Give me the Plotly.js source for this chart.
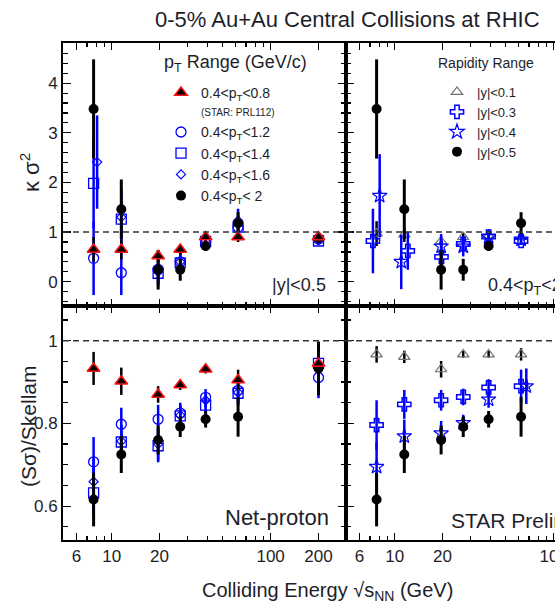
<!DOCTYPE html>
<html><head><meta charset="utf-8">
<script src="https://cdn.plot.ly/plotly-3.0.1.min.js"></script>
<style>html,body{margin:0;padding:0;overflow:hidden;background:#fff}</style>
</head><body><div id="chart" style="width:555px;height:610px"></div>
<script>
// ---------- data ----------
const energies = [7.7, 11.5, 19.6, 27, 39, 62.4, 200];
const xTickVals = [6, 10, 20, 100, 200];
const xTickText = ['6', '10', '20', '100', '200'];
const xMinorVals = [5, 7, 8, 9, 30, 40, 50, 60, 70, 80, 90, 300];

// top-left: kappa*sigma^2, pT ranges (|y|<0.5)
const kPt08 = [0.65, 0.65, 0.52, 0.65, 0.90, 0.90, 0.90];
const kPt08Err = [0.25, 0.20, 0.12, 0.10, 0.07, 0.10, 0.05];
const kPt12 = [0.47, 0.18, 0.25, 0.40, 0.80, 1.10, 0.86];
const kPt12Err = [0.74, 0.45, 0.30, 0.20, 0.10, 0.15, 0.08];
const kPt14 = [1.98, 1.26, 0.17, 0.38, 0.81, 1.10, 0.82];
const kPt14Err = [0.90, 0.50, 0.25, 0.20, 0.10, 0.15, 0.08];
const kPt16X = [8.1, 11.5, 19.6, 27, 39, 62.4, 200];
const kPt16 = [2.41, 1.30, 0.20, 0.40, 0.82, 1.23, 0.85];
const kPt16Err = [0.94, 0.55, 0.30, 0.20, 0.10, 0.24, 0.08];
const kNetP = [3.48, 1.46, 0.24, 0.24, 0.72, 1.18, 0.88];   // 0.4<pT<2, |y|<0.5
const kNetPErr = [1.00, 0.60, 0.40, 0.22, 0.10, 0.22, 0.10];

// top-right: kappa*sigma^2, rapidity ranges (0.4<pT<2)
const energiesRap = [7.7, 11.5, 19.6, 27, 39, 62.4];
const kY01 = [0.97, 0.95, 0.81, 0.90, 0.93, 0.90];
const kY01Err = [0.25, 0.15, 0.10, 0.08, 0.05, 0.05];
const kY03X = [7.3, 12.1, 19.7, 27, 39, 62.4];
const kY03 = [0.82, 0.62, 0.50, 0.76, 0.91, 0.82];
const kY03Err = [0.65, 0.38, 0.33, 0.15, 0.06, 0.08];
const kY04X = [8.05, 11.0, 19.6, 27, 39, 62.4];
const kY04 = [1.73, 0.40, 0.71, 0.71, 0.90, 0.85];
const kY04Err = [0.84, 0.55, 0.25, 0.20, 0.07, 0.08];

// bottom-left: S*sigma/Skellam, pT ranges
const sPt08 = [0.933, 0.902, 0.870, 0.893, 0.931, 0.905, 0.945];
const sPt08Err = [0.040, 0.033, 0.020, 0.012, 0.010, 0.025, 0.020];
const sPt12 = [0.707, 0.798, 0.810, 0.825, 0.863, 0.880, 0.911];
const sPt12Err = [0.060, 0.040, 0.035, 0.025, 0.020, 0.030, 0.050];
const sPt14 = [0.632, 0.755, 0.746, 0.818, 0.844, 0.873, 0.945];
const sPt14Err = [0.060, 0.040, 0.040, 0.025, 0.020, 0.030, 0.050];
const sPt16 = [0.659, 0.757, 0.750, 0.820, 0.856, 0.875, 0.940];
const sPt16Err = [0.060, 0.040, 0.040, 0.025, 0.020, 0.030, 0.050];
const sNetP = [0.616, 0.725, 0.760, 0.792, 0.810, 0.816, 0.933];
const sNetPErr = [0.065, 0.045, 0.035, 0.025, 0.020, 0.048, 0.065];

// bottom-right: S*sigma/Skellam, rapidity ranges
const sY01 = [0.967, 0.961, 0.931, 0.967, 0.967, 0.967];
const sY01Err = [0.020, 0.015, 0.020, 0.008, 0.008, 0.015];
const sY03 = [0.796, 0.846, 0.856, 0.864, 0.887, 0.890];
const sY03Err = [0.060, 0.035, 0.025, 0.020, 0.020, 0.040];
const sY04X = [7.7, 11.5, 19.6, 27, 39, 67.3];
const sY04 = [0.695, 0.769, 0.776, 0.801, 0.858, 0.890];
const sY04Err = [0.060, 0.040, 0.030, 0.020, 0.020, 0.043];

// ---------- styling ----------
const FONT = 'Liberation Sans, Arial, Helvetica, sans-serif';
const TXT = '#1e1e2a';
const BLUE = '#0000ff';

function tr(x, y, err, xa, ya, opt) {
  return Object.assign({
    type: 'scatter', mode: 'markers', x: x, y: y, xaxis: xa, yaxis: ya,
    error_y: {type: 'data', array: err, visible: true, color: opt.ecolor, thickness: opt.ethick || 2.5, width: 0},
    marker: opt.marker, showlegend: false, hoverinfo: 'skip', cliponaxis: true
  }, opt.extra || {});
}

const mTri = {symbol: 'triangle-up', size: 11, color: '#000', line: {color: '#ff1010', width: 1.5}};
const mC12 = {symbol: 'circle-open', size: 10, color: BLUE, line: {color: BLUE, width: 1.3}};
const mSq = {symbol: 'square-open', size: 10, color: BLUE, line: {color: BLUE, width: 1.3}};
const mDia = {symbol: 'diamond-open', size: 7, color: BLUE, line: {color: BLUE, width: 1.2}};
const mBlk = {symbol: 'circle', size: 10, color: '#000'};
const mGTri = {symbol: 'triangle-up-open', size: 10, color: '#707070', line: {color: '#707070', width: 1.2}};
const mCross = {symbol: 'cross-open', size: 11, color: BLUE, line: {color: BLUE, width: 1.5}};
const mStar = {symbol: 'star-open', size: 11, color: BLUE, line: {color: BLUE, width: 1.2}};

const L1 = (name, rank) => ({showlegend: true, legend: 'legend', name: name, legendrank: rank});
const L2 = (name, rank) => ({showlegend: true, legend: 'legend2', name: name, legendrank: rank});

const data = [
  // top-left (x2,y2)
  tr(energies, kPt12, kPt12Err, 'x2', 'y2', {marker: mC12, ecolor: BLUE, extra: L1('0.4&lt;p<sub>T</sub>&lt;1.2', 2)}),
  tr(energies, kPt14, kPt14Err, 'x2', 'y2', {marker: mSq, ecolor: BLUE, extra: L1('0.4&lt;p<sub>T</sub>&lt;1.4', 3)}),
  tr(kPt16X, kPt16, kPt16Err, 'x2', 'y2', {marker: mDia, ecolor: BLUE, extra: L1('0.4&lt;p<sub>T</sub>&lt;1.6', 4)}),
  tr(energies, kNetP, kNetPErr, 'x2', 'y2', {marker: mBlk, ecolor: '#000', ethick: 3, extra: L1('0.4&lt;p<sub>T</sub>&lt; 2', 5)}),
  tr(energies, kPt08, kPt08Err, 'x2', 'y2', {marker: mTri, ecolor: '#000', extra: L1('0.4&lt;p<sub>T</sub>&lt;0.8<br><span style="font-size:10px">(STAR: PRL112)</span>', 1)}),
  // top-right (x4,y4)
  tr(energiesRap, kY01, kY01Err, 'x4', 'y4', {marker: mGTri, ecolor: '#000', extra: L2('|y|&lt;0.1', 1)}),
  tr(kY03X, kY03, kY03Err, 'x4', 'y4', {marker: mCross, ecolor: BLUE, extra: L2('|y|&lt;0.3', 2)}),
  tr(kY04X, kY04, kY04Err, 'x4', 'y4', {marker: mStar, ecolor: BLUE, extra: L2('|y|&lt;0.4', 3)}),
  tr(energies, kNetP, kNetPErr, 'x4', 'y4', {marker: mBlk, ecolor: '#000', ethick: 3, extra: L2('|y|&lt;0.5', 4)}),
  // bottom-left (x,y)
  tr(energies, sPt12, sPt12Err, 'x', 'y', {marker: mC12, ecolor: BLUE}),
  tr(energies, sPt14, sPt14Err, 'x', 'y', {marker: mSq, ecolor: BLUE}),
  tr(energies, sPt16, sPt16Err, 'x', 'y', {marker: mDia, ecolor: BLUE}),
  tr(energies, sNetP, sNetPErr, 'x', 'y', {marker: mBlk, ecolor: '#000', ethick: 3}),
  tr(energies, sPt08, sPt08Err, 'x', 'y', {marker: mTri, ecolor: '#000'}),
  // bottom-right (x3,y3)
  tr(energiesRap, sY01, sY01Err, 'x3', 'y3', {marker: mGTri, ecolor: '#000'}),
  tr(energiesRap, sY03, sY03Err, 'x3', 'y3', {marker: mCross, ecolor: BLUE}),
  tr(sY04X, sY04, sY04Err, 'x3', 'y3', {marker: mStar, ecolor: BLUE}),
  tr(energies, sNetP, sNetPErr, 'x3', 'y3', {marker: mBlk, ecolor: '#000', ethick: 3})
];

const xL = [63 / 555, 346 / 555], xR = [346 / 555, 1];
const yT = [1 - 306 / 610, 1 - 43 / 610], yB = [1 - 540 / 610, 1 - 306 / 610];
const rangeXL = [0.694, 2.474];
const rangeXR = [0.694, 0.694 + (rangeXL[1] - rangeXL[0]) * 209 / 283];

const tickFont = {family: FONT, size: 17, color: TXT};
function xax(domain, range, anchor, labels) {
  return {domain: domain, range: range, type: 'log', anchor: anchor,
    showline: true, linecolor: '#000', linewidth: 2, mirror: 'allticks',
    ticks: 'inside', ticklen: 7, tickwidth: 1.2, tickcolor: '#000',
    tickmode: 'array', tickvals: xTickVals, ticktext: xTickText,
    showticklabels: labels, tickfont: tickFont, ticklabeloverflow: 'allow',
    minor: {tickmode: 'array', tickvals: xMinorVals, ticks: 'inside', ticklen: 4, tickwidth: 1.2, tickcolor: '#000', showgrid: false},
    showgrid: false, zeroline: false, fixedrange: true};
}
function yax(domain, range, anchor, labels, mirror, top) {
  return {domain: domain, range: range, anchor: anchor,
    showline: true, linecolor: '#000', linewidth: 2, mirror: mirror,
    ticks: 'inside', ticklen: 8, tickwidth: 1.2, tickcolor: '#000',
    tickmode: 'linear', tick0: 0, dtick: top ? 1 : 0.2,
    showticklabels: labels, tickfont: tickFont,
    minor: {tickmode: 'linear', tick0: 0, dtick: top ? 0.2 : 0.05, ticks: 'inside', ticklen: 5, tickwidth: 1.2, tickcolor: '#000', showgrid: false},
    showgrid: false, zeroline: false, fixedrange: true};
}

const dashLine = (xa, ya) => ({type: 'line', xref: xa + ' domain', x0: 0, x1: 1, yref: ya, y0: 1, y1: 1,
  line: {color: '#333', width: 1.5, dash: '6px,4px'}});

const ann = (text, x, y, size, xanchor, extra) => Object.assign({
  text: text, x: x / 555, y: 1 - y / 610, xref: 'paper', yref: 'paper',
  xanchor: xanchor, yanchor: 'middle', showarrow: false,
  font: {family: FONT, size: size, color: TXT}}, extra || {});

const layout = {
  width: 555, height: 610,
  margin: {l: 0, r: 0, t: 0, b: 0},
  paper_bgcolor: '#fff', plot_bgcolor: '#fff',
  font: {family: FONT, color: TXT},
  xaxis: xax(xL, rangeXL, 'y', true),
  yaxis: yax(yB, [0.518, 1.084], 'x', true, 'allticks', false),
  xaxis2: xax(xL, rangeXL, 'y2', false),
  yaxis2: yax(yT, [-0.49, 4.81], 'x2', true, 'allticks', true),
  xaxis3: xax(xR, rangeXR, 'y3', true),
  yaxis3: yax(yB, [0.518, 1.084], 'x3', false, false, false),
  xaxis4: xax(xR, rangeXR, 'y4', false),
  yaxis4: yax(yT, [-0.49, 4.81], 'x4', false, false, true),
  shapes: [dashLine('x', 'y'), dashLine('x2', 'y2'), dashLine('x3', 'y3'), dashLine('x4', 'y4')],
  legend: {x: 161 / 555, y: 1 - 77 / 610, xanchor: 'left', yanchor: 'top',
    bgcolor: 'rgba(0,0,0,0)', borderwidth: 0, valign: 'top',
    font: {family: FONT, size: 14, color: TXT}},
  legend2: {x: 437 / 555, y: 1 - 77 / 610, xanchor: 'left', yanchor: 'top',
    bgcolor: 'rgba(0,0,0,0)', borderwidth: 0,
    font: {family: FONT, size: 13, color: TXT}},
  annotations: [
    ann('0-5% Au+Au Central Collisions at RHIC', 347, 19, 22, 'center'),
    ann('p<sub>T</sub> Range (GeV/c)', 162, 63, 18, 'left'),
    ann('Rapidity Range', 436, 63, 14, 'left'),
    ann('|y|&lt;0.5', 328, 285, 18, 'right'),
    ann('0.4&lt;p<sub>T</sub>&lt;2', 486, 287, 18, 'left'),
    ann('Net-proton', 331, 517, 22, 'right'),
    ann('STAR Preliminary', 449, 520, 21, 'left'),
    ann('κ σ<sup>2</sup>', 30, 173, 22, 'center', {textangle: -90}),
    ann('(Sσ)/Skellam', 28, 427, 21, 'center', {textangle: -90}),
    ann('Colliding Energy √s<sub>NN</sub> (GeV)', 327, 591, 20, 'center')
  ]
};

Plotly.newPlot('chart', data, layout, {displayModeBar: false, staticPlot: true});
</script>
</body></html>
